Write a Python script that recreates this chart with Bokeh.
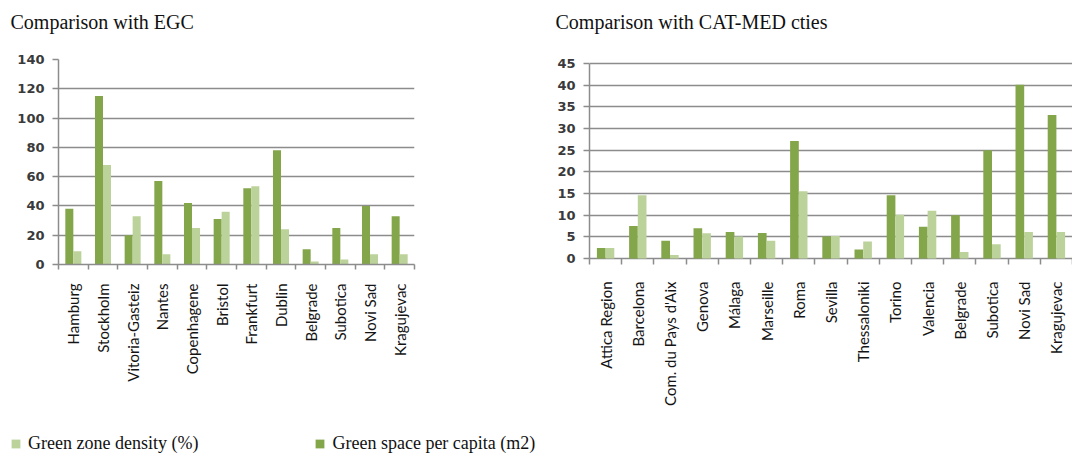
import numpy as np
from bokeh.plotting import figure
from bokeh.models import FixedTicker, Range1d, Legend, LegendItem, Label
from bokeh.layouts import row, column
from bokeh.embed import file_html
from bokeh.resources import INLINE

# ---------------- data ----------------
egc_cities = ["Hamburg", "Stockholm", "Vitoria-Gasteiz", "Nantes", "Copenhagene",
              "Bristol", "Frankfurt", "Dublin", "Belgrade", "Subotica", "Novi Sad",
              "Kragujevac"]
egc_space = [38, 115, 20, 57, 42, 31, 52, 78, 10.5, 25, 40, 33]
egc_density = [9, 68, 33, 7, 25, 36, 53.5, 24, 2, 3.4, 7, 7]

med_cities = ["Attica Region", "Barcelona", "Com. du Pays d'Aix", "Genova", "Málaga",
              "Marseille", "Roma", "Sevilla", "Thessaloniki", "Torino", "Valencia",
              "Belgrade", "Subotica", "Novi Sad", "Kragujevac"]
med_space = [2.4, 7.5, 4.1, 7.0, 6.1, 5.9, 27.1, 5.1, 2.1, 14.6, 7.3, 10.0, 25.0, 40.1, 33.1]
med_density = [2.4, 14.6, 0.8, 5.8, 5.1, 4.1, 15.5, 5.2, 3.9, 10.1, 11.0, 1.5, 3.3, 6.1, 6.1]

series_labels = ["Green zone density (%)", "Green space per capita (m2)"]
titles = ["Comparison with EGC", "Comparison with CAT-MED cties"]

DARK = "#84a64a"
LIGHT = "#bcd29b"
GRID = "#8c8c8c"

TITLE_H = 40
FRAME_H = 205      # both frames share the same vertical box (row aligns them)
TOP = 59 - TITLE_H
ROW_H = 430 - TITLE_H


def make_chart(cities, space, density, ymax, ystep, width, bl, br,
               pad_top_px, pad_bottom_px, tick_in, tick_out, label_standoff):
    n = len(cities)
    plot_px = FRAME_H - pad_top_px - pad_bottom_px
    per_px = ymax / plot_px
    y0 = -pad_bottom_px * per_px
    y1 = ymax + pad_top_px * per_px
    p = figure(width=width, height=ROW_H, x_range=Range1d(0, n), y_range=Range1d(y0, y1),
               output_backend="svg", toolbar_location=None,
               min_border_left=bl, min_border_right=br, min_border_top=TOP,
               min_border_bottom=ROW_H - TOP - FRAME_H, outline_line_color=None)
    centers = np.arange(n) + 0.5
    bw = 0.27
    p.vbar(x=centers - bw / 2, top=space, width=bw, color=DARK, line_color=None)
    p.vbar(x=centers + bw / 2, top=density, width=bw, color=LIGHT, line_color=None)

    xa = p.xaxis[0]
    xa.ticker = FixedTicker(ticks=list(centers), minor_ticks=list(range(n + 1)))
    xa.major_label_overrides = {float(c): name for c, name in zip(centers, cities)}
    xa.major_tick_line_color = None
    xa.minor_tick_line_color = GRID
    xa.minor_tick_line_width = 1.5
    xa.minor_tick_out = tick_out
    xa.minor_tick_in = tick_in
    xa.axis_line_color = GRID if pad_bottom_px == 0 else None
    xa.axis_line_width = 1.5
    xa.major_label_orientation = np.pi / 2
    xa.major_label_standoff = label_standoff
    xa.major_label_text_font = "Lato"
    xa.major_label_text_font_size = "15px"
    xa.major_label_text_color = "#141414"

    ya = p.yaxis[0]
    ya.ticker = FixedTicker(ticks=list(range(0, ymax + 1, ystep)), minor_ticks=[])
    ya.bounds = (0, ymax)
    ya.major_tick_out = 6
    ya.major_tick_in = 0
    ya.major_tick_line_color = GRID
    ya.major_tick_line_width = 1.5
    ya.axis_line_color = GRID
    ya.axis_line_width = 1.5
    ya.major_label_standoff = 8
    ya.major_label_text_font = "DejaVu Sans"
    ya.major_label_text_font_style = "bold"
    ya.major_label_text_font_size = "13px"
    ya.major_label_text_color = "#3a3a3a"

    p.xgrid.grid_line_color = None
    p.ygrid.grid_line_color = GRID
    p.ygrid.grid_line_width = 1.5
    p.ygrid.ticker = ya.ticker
    return p


# title strip
p0 = figure(width=1072, height=TITLE_H, x_range=Range1d(0, 1), y_range=Range1d(0, 1),
            min_border=0, toolbar_location=None, output_backend="svg",
            outline_line_color=None)
p0.axis.visible = False
p0.grid.visible = False
for tx, t in zip([10, 555], titles):
    p0.add_layout(Label(x=tx, y=TITLE_H - 21, x_units="screen", y_units="screen", text=t,
                        text_font="Liberation Serif", text_font_size="20px",
                        text_color="#111111", text_baseline="middle",
                        text_align="left"))

# left chart: frame x 58..414, 140 at y=59, 0 at y=264
p1 = make_chart(egc_cities, egc_space, egc_density, 140, 20,
                540, 58, 126, 0, 0, 0, 5, 13)
# right chart: frame x 589..1072, 45 at y=63, 0 at y=258
p2 = make_chart(med_cities, med_space, med_density, 45, 5,
                532, 49, 0, 4, 6, 6, 0, 11)

# legend strip
p3 = figure(width=1072, height=24, x_range=Range1d(0, 1), y_range=Range1d(0, 1),
            min_border=0, toolbar_location=None, output_backend="svg",
            outline_line_color=None)
p3.axis.visible = False
p3.grid.visible = False
r_light = p3.vbar(x=[-1], top=[0], width=0.01, color=LIGHT, line_color=None)
r_dark = p3.vbar(x=[-1], top=[0], width=0.01, color=DARK, line_color=None)
legend = Legend(items=[LegendItem(label=series_labels[0], renderers=[r_light]),
                       LegendItem(label=series_labels[1], renderers=[r_dark])],
                orientation="horizontal", location=(10, 0),
                glyph_width=11, glyph_height=11, label_standoff=7, spacing=116,
                padding=0, margin=0, border_line_color=None, background_fill_alpha=0,
                label_text_font="Liberation Serif", label_text_font_size="18px",
                label_text_color="#111111")
p3.add_layout(legend, "center")

layout = column(p0, row(p1, p2), p3)
open("out.html", "w").write(file_html(layout, INLINE))
